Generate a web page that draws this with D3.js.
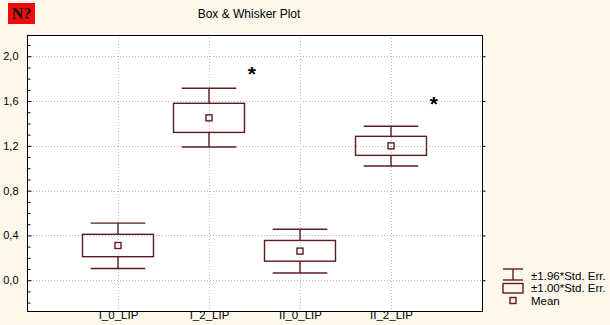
<!DOCTYPE html>
<html>
<head>
<meta charset="utf-8">
<script src="https://cdn.jsdelivr.net/npm/d3@7"></script>
<style>
  html, body { margin: 0; padding: 0; background: #fdf8ec; }
  svg { display: block; }
  text { font-family: "Liberation Sans", Arial, sans-serif; }
</style>
</head>
<body>
<svg id="chart" width="610" height="325"></svg>
<script>
// Group labels
const categories = ["I_0_LIP", "I_2_LIP", "II_0_LIP", "II_2_LIP"];
// Mean of each group
const means = [0.31, 1.45, 0.26, 1.20];
// Box: mean ± 1.00*Std. Err.
const boxLow = [0.21, 1.32, 0.17, 1.115];
const boxHigh = [0.41, 1.58, 0.355, 1.285];
// Whiskers: mean ± 1.96*Std. Err.
const whiskerLow = [0.105, 1.19, 0.065, 1.02];
const whiskerHigh = [0.51, 1.715, 0.455, 1.375];
// Significance markers (null = none)
const starValues = [null, 1.87, null, 1.60];
// Axis ticks
const majorTicks = [0.0, 0.4, 0.8, 1.2, 1.6, 2.0];
const minorTicks = [-0.2, -0.1, 0.1, 0.2, 0.3, 0.5, 0.6, 0.7, 0.9, 1.0, 1.1, 1.3, 1.4, 1.5, 1.7, 1.8, 1.9, 2.1];
const legendItems = ["±1.96*Std. Err.", "±1.00*Std. Err.", "Mean"];

const svg = d3.select("#chart");
const plot = { left: 27, right: 482, top: 35, bottom: 311 };
const boxColor = "#5e1c1c";

const x = d3.scalePoint().domain(categories).range([plot.left, plot.right]).padding(1);
const y = d3.scaleLinear().domain([-0.275, 2.19]).range([plot.bottom, plot.top]);
const fmt = v => d3.format(".1f")(v).replace(".", ",");

// Badge in the corner
svg.append("rect").attr("x", 8).attr("y", 3).attr("width", 27).attr("height", 21).attr("fill", "#ee0c0c");
svg.append("text").attr("x", 21.5).attr("y", 19).attr("text-anchor", "middle")
  .style("font-family", "'Liberation Serif', 'Times New Roman', serif")
  .style("font-weight", "bold").style("font-size", "16px").attr("fill", "#111").text("N?");

// Title
svg.append("text").attr("x", 249).attr("y", 18).attr("text-anchor", "middle")
  .style("font-size", "12px").attr("fill", "#000").text("Box & Whisker Plot");

// Plot area
svg.append("rect").attr("x", plot.left).attr("y", plot.top)
  .attr("width", plot.right - plot.left).attr("height", plot.bottom - plot.top).attr("fill", "#fff");

// Grid
const grid = svg.append("g").attr("stroke", "#b8b8b8").attr("stroke-dasharray", "1,2").attr("stroke-width", 1);
grid.selectAll("line.h").data(majorTicks).join("line").attr("class", "h")
  .attr("x1", plot.left).attr("x2", plot.right)
  .attr("y1", d => Math.round(y(d)) + 0.5).attr("y2", d => Math.round(y(d)) + 0.5);
grid.selectAll("line.v").data(categories).join("line").attr("class", "v")
  .attr("x1", d => Math.round(x(d)) + 0.5).attr("x2", d => Math.round(x(d)) + 0.5)
  .attr("y1", plot.top).attr("y2", plot.bottom);

// Left axis with inward ticks
const leftAxis = d3.axisLeft(y).tickValues(majorTicks).tickFormat(fmt).tickSizeInner(-4).tickSizeOuter(0).tickPadding(9);
const gl = svg.append("g").attr("transform", `translate(${plot.left + 0.5},0)`).call(leftAxis);
gl.select(".domain").remove();
gl.selectAll("text").style("font-size", "11px").style("font-family", "'Liberation Sans', Arial, sans-serif").attr("fill", "#000");
gl.selectAll("line").attr("stroke", "#000");
const minorAxis = d3.axisLeft(y).tickValues(minorTicks).tickFormat("").tickSizeInner(-3).tickSizeOuter(0);
const gm = svg.append("g").attr("transform", `translate(${plot.left + 0.5},0)`).call(minorAxis);
gm.select(".domain").remove();
gm.selectAll("line").attr("stroke", "#000");

// Right axis with outward ticks
const rightAxis = d3.axisRight(y).tickValues(majorTicks).tickFormat("").tickSizeInner(3).tickSizeOuter(0);
const gr = svg.append("g").attr("transform", `translate(${plot.right + 0.5},0)`).call(rightAxis);
gr.select(".domain").remove();
gr.selectAll("line").attr("stroke", "#000");

// Bottom axis labels
const bottomAxis = d3.axisBottom(x).tickSize(0).tickPadding(0);
const gb = svg.append("g").attr("transform", `translate(0,${plot.bottom})`).call(bottomAxis);
gb.select(".domain").remove();
gb.selectAll("text").attr("y", 7.5).attr("dy", null)
  .style("font-size", "11.5px").style("font-family", "'Liberation Sans', Arial, sans-serif").attr("fill", "#000");

// Frame
svg.append("rect").attr("x", plot.left + 0.5).attr("y", plot.top + 0.5)
  .attr("width", plot.right - plot.left).attr("height", plot.bottom - plot.top)
  .attr("fill", "none").attr("stroke", "#000").attr("stroke-width", 1);

// Boxes and whiskers
const step = x.step();
const boxW = step * 0.78, capW = step * 0.6, meanS = 6;
const groups = svg.append("g").attr("stroke", boxColor).attr("stroke-width", 1.4).attr("fill", "none")
  .selectAll("g").data(categories).join("g");
groups.append("line")
  .attr("x1", (d) => x(d)).attr("x2", (d) => x(d))
  .attr("y1", (d, i) => y(whiskerHigh[i])).attr("y2", (d, i) => y(boxHigh[i]));
groups.append("line")
  .attr("x1", (d) => x(d)).attr("x2", (d) => x(d))
  .attr("y1", (d, i) => y(boxLow[i])).attr("y2", (d, i) => y(whiskerLow[i]));
groups.append("line")
  .attr("x1", d => x(d) - capW / 2).attr("x2", d => x(d) + capW / 2)
  .attr("y1", (d, i) => y(whiskerHigh[i])).attr("y2", (d, i) => y(whiskerHigh[i]));
groups.append("line")
  .attr("x1", d => x(d) - capW / 2).attr("x2", d => x(d) + capW / 2)
  .attr("y1", (d, i) => y(whiskerLow[i])).attr("y2", (d, i) => y(whiskerLow[i]));
groups.append("rect")
  .attr("x", d => x(d) - boxW / 2).attr("width", boxW)
  .attr("y", (d, i) => y(boxHigh[i])).attr("height", (d, i) => y(boxLow[i]) - y(boxHigh[i]));
groups.append("rect")
  .attr("x", d => x(d) - meanS / 2).attr("width", meanS)
  .attr("y", (d, i) => y(means[i]) - meanS / 2).attr("height", meanS);

// Significance stars
svg.append("g").selectAll("text")
  .data(categories.map((c, i) => ({ c, v: starValues[i] })).filter(d => d.v !== null))
  .join("text")
  .attr("x", (d, i) => x(d.c) + step * 0.47).attr("y", d => y(d.v) + 10)
  .attr("text-anchor", "middle").style("font-size", "21px").style("font-weight", "bold")
  .attr("fill", "#000").text("*");

// Legend
const lg = svg.append("g");
const rowY = [275.5, 288, 300.5];
lg.selectAll("text").data(legendItems).join("text")
  .attr("x", 531).attr("y", (d, i) => rowY[i] + 4)
  .style("font-size", "11.5px").attr("fill", "#000").text(d => d);
const icons = lg.append("g").attr("stroke", boxColor).attr("stroke-width", 1.4).attr("fill", "none");
icons.append("line").attr("x1", 503).attr("x2", 523).attr("y1", 269).attr("y2", 269);
icons.append("line").attr("x1", 503).attr("x2", 523).attr("y1", 280).attr("y2", 280);
icons.append("line").attr("x1", 513).attr("x2", 513).attr("y1", 269).attr("y2", 280);
icons.append("rect").attr("x", 503).attr("y", 283.5).attr("width", 20).attr("height", 9.5);
icons.append("rect").attr("x", 510).attr("y", 297.5).attr("width", 6).attr("height", 6);
</script>
</body>
</html>
